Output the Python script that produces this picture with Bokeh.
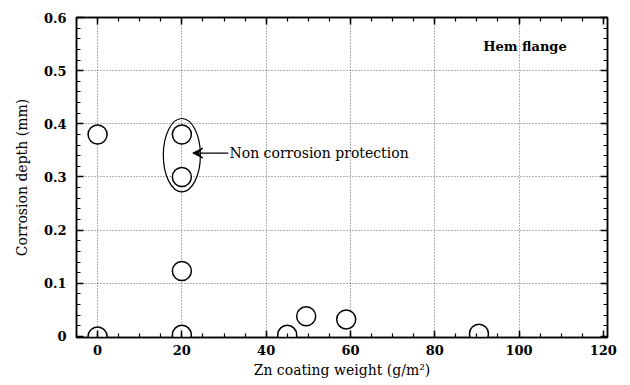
from bokeh.plotting import figure
from bokeh.models import Range1d, LinearAxis, Arrow, VeeHead, Label, FixedTicker, ColumnDataSource
from bokeh.embed import file_html
from bokeh.resources import INLINE

# Data
zn_weight = [0, 0, 20, 20, 20, 20, 45, 49.5, 59, 90.5]
corrosion_depth = [0.38, 0.0, 0.38, 0.30, 0.123, 0.003, 0.003, 0.038, 0.032, 0.005]
x_ticks = [0, 20, 40, 60, 80, 100, 120]
y_ticks = [0, 0.1, 0.2, 0.3, 0.4, 0.5, 0.6]

SERIF = "DejaVu Serif"

p = figure(frame_width=531, frame_height=320, output_backend="svg", toolbar_location=None,
           x_range=Range1d(-5, 121), y_range=Range1d(-0.002, 0.6),
           min_border_left=76, min_border_right=23, min_border_top=17, min_border_bottom=48,
           background_fill_color="white", border_fill_color="white")
p.outline_line_color = "black"
p.outline_line_width = 1.5

xt = FixedTicker(ticks=x_ticks, minor_ticks=list(range(-5, 125, 5)))
yt = FixedTicker(ticks=y_ticks, minor_ticks=[i * 0.02 for i in range(0, 31)])

def style_axis(ax):
    ax.axis_line_color = "black"
    ax.axis_line_width = 1.5
    ax.major_tick_in = 7
    ax.major_tick_out = 0
    ax.minor_tick_in = 4
    ax.minor_tick_out = 0
    ax.major_tick_line_color = "black"
    ax.major_tick_line_width = 1.5
    ax.minor_tick_line_color = "black"
    ax.minor_tick_line_width = 1.2
    ax.major_label_text_font = SERIF
    ax.major_label_text_font_style = "bold"
    ax.major_label_text_font_size = "13px"
    ax.major_label_text_color = "black"
    ax.axis_label_text_font = SERIF
    ax.axis_label_text_font_style = "normal"
    ax.axis_label_text_font_size = "14px"
    ax.axis_label_text_color = "black"

p.xaxis.ticker = xt
p.yaxis.ticker = yt
style_axis(p.xaxis[0])
style_axis(p.yaxis[0])
p.xaxis.axis_label = "Zn coating weight (g/m²)"
p.yaxis.axis_label = "Corrosion depth (mm)"
p.yaxis.major_label_overrides = {0: "0"}
p.xaxis.major_label_standoff = 7
p.yaxis.major_label_standoff = 10
p.xaxis.axis_label_standoff = 4
p.yaxis.axis_label_standoff = 11

top = LinearAxis(ticker=xt, major_label_standoff=0)
right = LinearAxis(ticker=yt, major_label_standoff=0)
style_axis(top)
style_axis(right)
top.major_label_overrides = {t: "" for t in x_ticks}
right.major_label_overrides = {t: "" for t in y_ticks}
p.add_layout(top, "above")
p.add_layout(right, "right")

p.xgrid.ticker = FixedTicker(ticks=x_ticks[:-1])
p.ygrid.ticker = FixedTicker(ticks=y_ticks[1:-1])
for g in (p.xgrid, p.ygrid):
    g.grid_line_color = "black"
    g.grid_line_dash = "1 2"
    g.grid_line_width = 1
    g.grid_line_alpha = 0.6

src = ColumnDataSource(dict(x=zn_weight, y=corrosion_depth))
p.scatter("x", "y", source=src, size=19, marker="circle", fill_color="white",
          line_color="black", line_width=1.5)

# Highlight ellipse
p.ellipse(x=20, y=0.341, width=8.8, height=0.138, fill_color=None, line_color="black", line_width=1.2)

p.add_layout(Arrow(end=VeeHead(size=10, line_color="black", fill_color="black"),
                   x_start=31, y_start=0.345, x_end=22.6, y_end=0.345,
                   line_color="black", line_width=1.2))
p.add_layout(Label(x=31.3, y=0.345, text="Non corrosion protection", text_font=SERIF,
                   text_font_size="14px", text_baseline="middle", text_color="black"))
p.add_layout(Label(x=91.5, y=0.545, text="Hem flange", text_font=SERIF, text_font_style="bold",
                   text_font_size="13px", text_baseline="middle", text_color="black"))

open("out.html", "w").write(file_html(p, INLINE))
